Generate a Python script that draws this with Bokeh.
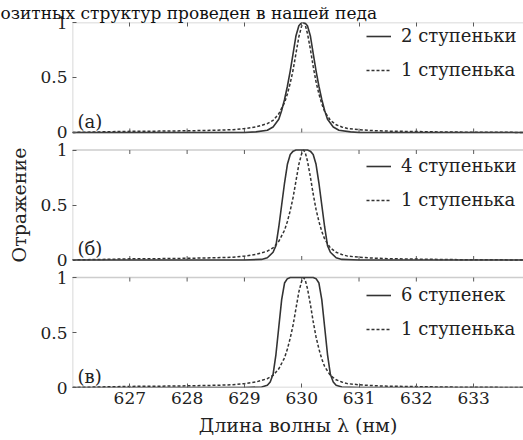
from bokeh.plotting import figure
from bokeh.models import (Range1d, LinearAxis, FixedTicker, CustomJSTickFormatter,
                          Legend, LegendItem, Label, BoxAnnotation)
from bokeh.embed import file_html
from bokeh.resources import INLINE

# ---------------- data ----------------
ref_x = [626.0, 626.5, 627.0, 627.5, 628.0, 628.5, 628.8, 629.0, 629.2, 629.4, 629.5,
         629.6, 629.7, 629.75, 629.8, 629.85, 629.9, 629.95, 630.0, 630.03, 630.06,
         630.1, 630.15, 630.2, 630.25, 630.3, 630.35, 630.4, 630.5, 630.6, 630.7,
         630.8, 631.0, 631.2, 631.5, 632.0, 632.5, 633.0, 634.0]
ref_y = [0.0, 0.005, 0.01, 0.012, 0.015, 0.02, 0.025, 0.035, 0.05, 0.08, 0.11,
         0.17, 0.27, 0.35, 0.45, 0.57, 0.72, 0.87, 0.97, 1.0, 0.98,
         0.9, 0.76, 0.6, 0.46, 0.35, 0.26, 0.19, 0.11, 0.07, 0.05,
         0.035, 0.025, 0.018, 0.012, 0.008, 0.004, 0.002, 0.0]

s2_x = [626.0, 629.0, 629.2, 629.4, 629.5, 629.6, 629.65, 629.7, 629.75, 629.8, 629.85,
        629.9, 629.95, 630.0, 630.05, 630.1, 630.15, 630.2, 630.25, 630.3, 630.35,
        630.4, 630.45, 630.55, 630.65, 630.85, 631.0, 634.0]
s2_y = [0.0, 0.0, 0.005, 0.02, 0.05, 0.12, 0.2, 0.3, 0.42, 0.56, 0.72,
        0.88, 0.97, 1.0, 1.0, 0.97, 0.88, 0.72, 0.56, 0.42, 0.3,
        0.2, 0.12, 0.05, 0.02, 0.005, 0.0, 0.0]

s4_x = [626.0, 629.0, 629.3, 629.4, 629.5, 629.55, 629.6, 629.65, 629.7, 629.75, 629.8,
        629.85, 629.9, 630.1, 630.15, 630.2, 630.25, 630.3, 630.35, 630.4, 630.45,
        630.5, 630.6, 630.7, 631.0, 634.0]
s4_y = [0.0, 0.0, 0.005, 0.02, 0.07, 0.13, 0.3, 0.5, 0.7, 0.87, 0.96,
        0.99, 1.0, 1.0, 0.99, 0.96, 0.87, 0.7, 0.5, 0.3, 0.13,
        0.07, 0.02, 0.005, 0.0, 0.0]

s6_x = [626.0, 629.0, 629.3, 629.4, 629.45, 629.5, 629.55, 629.6, 629.65, 629.7, 629.75,
        629.8, 630.2, 630.25, 630.3, 630.35, 630.4, 630.45, 630.5, 630.55, 630.6,
        630.7, 631.0, 634.0]
s6_y = [0.0, 0.0, 0.005, 0.02, 0.05, 0.12, 0.3, 0.55, 0.8, 0.95, 0.99,
        1.0, 1.0, 0.99, 0.95, 0.8, 0.55, 0.3, 0.12, 0.05, 0.02,
        0.005, 0.0, 0.0]

x_ticks = [627, 628, 629, 630, 631, 632, 633]
y_ticks = [0, 0.5, 1]
panel_tags = ["(а)", "(б)", "(в)"]
main_labels = ["2 ступеньки", "4 ступеньки", "6 ступенек"]
ref_label = "1 ступенька"
x_title = "Длина волны λ (нм)"
y_title = "Отражение"
page_fragment = "озитных структур проведен в нашей педа"

series = [(s2_x, s2_y), (s4_x, s4_y), (s6_x, s6_y)]

# ---------------- layout / style ----------------
FONT = "DejaVu Serif"
TXT = "#222222"
AX = "#5a5a5a"
LN = "#333333"
X0, X1 = 626.0, 633.87
GAP = 0.16
offsets = [2 * (1 + GAP), 1 + GAP, 0.0]   # panel (а) on top
Y_TOP = 3 + 2 * GAP
TICK = 0.036
leg_loc = [(294, 307), (294, 177), (294, 48)]

p = figure(width=523, height=440, x_range=Range1d(X0, X1), y_range=Range1d(0, Y_TOP),
           output_backend="svg", toolbar_location=None,
           min_border_left=72, min_border_right=0, min_border_top=22, min_border_bottom=53)
p.outline_line_color = None
p.grid.visible = False

# fragment of the page text above the chart, as in the scan
p.title.text = page_fragment
p.title.text_font = FONT
p.title.text_font_size = "17px"
p.title.text_font_style = "normal"
p.title.text_color = "#111111"
p.title.align = "left"
p.title.offset = -72
p.title.standoff = 0

# bottom axis (panel в)
xa = p.xaxis[0]
xa.ticker = FixedTicker(ticks=x_ticks)
xa.axis_line_color = None
xa.major_tick_line_color = AX
xa.major_tick_in = 4
xa.major_tick_out = 0
xa.minor_tick_in = 0
xa.minor_tick_out = 0
xa.major_label_text_font = FONT
xa.major_label_text_font_size = "17px"
xa.major_label_text_color = TXT
xa.major_label_standoff = 4
xa.axis_label = x_title
xa.axis_label_text_font = FONT
xa.axis_label_text_font_style = "normal"
xa.axis_label_text_font_size = "19px"
xa.axis_label_text_color = TXT
xa.axis_label_standoff = 7

# top axis (panel а): ticks only
top = LinearAxis(ticker=FixedTicker(ticks=[], minor_ticks=x_ticks))
top.axis_line_color = None
top.minor_tick_line_color = AX
top.minor_tick_in = 4
top.minor_tick_out = 0
top.major_tick_in = 0
top.major_tick_out = 0
top.major_label_standoff = 0
p.add_layout(top, "above")

# y axis with labels for each panel
ya = p.yaxis[0]
ya.ticker = FixedTicker(ticks=[o + t for o in offsets for t in y_ticks])
ya.formatter = CustomJSTickFormatter(args=dict(offs=sorted(offsets)), code="""
    let base = 0;
    for (const o of offs) { if (tick >= o - 1e-6) { base = o } }
    const v = Math.round((tick - base) * 100) / 100;
    return String(v);
""")
ya.axis_line_color = None
ya.major_tick_line_color = AX
ya.major_tick_in = 4
ya.major_tick_out = 0
ya.minor_tick_in = 0
ya.minor_tick_out = 0
ya.major_label_text_font = FONT
ya.major_label_text_font_size = "17px"
ya.major_label_text_color = TXT
ya.major_label_standoff = 5
ya.axis_label = y_title
ya.axis_label_text_font = FONT
ya.axis_label_text_font_style = "normal"
ya.axis_label_text_font_size = "19px"
ya.axis_label_text_color = TXT
ya.axis_label_standoff = 7

for i, o in enumerate(offsets):
    p.add_layout(BoxAnnotation(left=X0, right=X1 + 1, bottom=o, top=o + 1,
                               fill_alpha=0, line_color=AX, line_width=1.6))
    if i > 0:
        p.segment(x0=x_ticks, y0=[o + 1] * len(x_ticks), x1=x_ticks,
                  y1=[o + 1 - TICK] * len(x_ticks), line_color=AX, line_width=1)
    if i < 2:
        p.segment(x0=x_ticks, y0=[o] * len(x_ticks), x1=x_ticks,
                  y1=[o + TICK] * len(x_ticks), line_color=AX, line_width=1)

    sx, sy = series[i]
    r_ref = p.line(ref_x, [v + o for v in ref_y], line_color=LN, line_width=1.5,
                   line_dash="3 2")
    r_main = p.line(sx, [v + o for v in sy], line_color=LN, line_width=1.6)

    leg = Legend(items=[LegendItem(label=main_labels[i], renderers=[r_main]),
                        LegendItem(label=ref_label, renderers=[r_ref])],
                 location=leg_loc[i], border_line_color=None,
                 background_fill_alpha=0, label_text_font=FONT,
                 label_text_font_size="18px", label_text_color=TXT,
                 glyph_width=25, label_standoff=10, spacing=13,
                 padding=4, margin=0)
    p.add_layout(leg)

    p.add_layout(Label(x=626.087, y=o + 0.1, text=panel_tags[i], text_font=FONT,
                       text_font_size="18px", text_color=TXT,
                       text_baseline="alphabetic"))

open("out.html", "w").write(file_html(p, INLINE))
